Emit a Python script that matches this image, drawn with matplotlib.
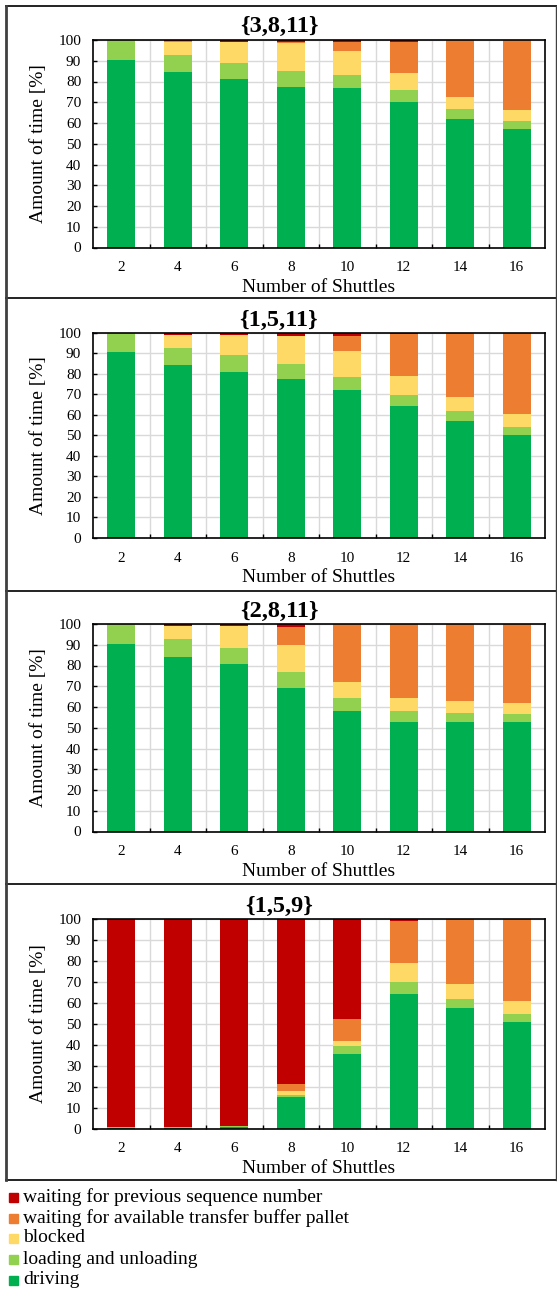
import matplotlib
matplotlib.use("Agg")
import matplotlib.pyplot as plt
from matplotlib.patches import Rectangle
from matplotlib.lines import Line2D

plt.rcParams['font.family'] = ['Liberation Serif', 'DejaVu Serif']

W, H = 557, 1293
DPI = 100

shuttles = ["2", "4", "6", "8", "10", "12", "14", "16"]
series_names = ["driving", "loading and unloading", "blocked",
                "waiting for available transfer buffer pallet",
                "waiting for previous sequence number"]
colors = ["#00B050", "#92D050", "#FFD966", "#ED7D31", "#C00000"]

titles = ["{3,8,11}", "{1,5,11}", "{2,8,11}", "{1,5,9}"]

# panel {3,8,11}
p1_driving = [90.5, 84.7, 81.2, 77.5, 76.7, 70.3, 62.1, 57.2]
p1_loading = [9.3, 8.2, 7.9, 7.5, 6.4, 5.6, 4.6, 3.9]
p1_blocked = [0.2, 6.3, 9.9, 13.6, 11.8, 8.2, 5.8, 5.0]
p1_pallet = [0.0, 0.2, 0.2, 0.2, 4.0, 14.9, 27.5, 33.9]
p1_seq = [0.0, 0.6, 0.8, 1.2, 1.1, 1.0, 0.0, 0.0]

# panel {1,5,11}
p2_driving = [90.6, 84.4, 81.0, 77.6, 72.1, 64.4, 57.1, 50.3]
p2_loading = [9.4, 8.5, 8.1, 7.1, 6.3, 5.4, 4.8, 3.9]
p2_blocked = [0.0, 6.3, 9.9, 13.8, 12.8, 9.1, 6.8, 6.2]
p2_pallet = [0.0, 0.0, 0.0, 0.0, 7.5, 20.5, 31.3, 39.6]
p2_seq = [0.0, 0.8, 1.0, 1.5, 1.3, 0.6, 0.0, 0.0]

# panel {2,8,11}
p3_driving = [90.5, 84.2, 80.5, 69.3, 58.2, 52.6, 52.6, 52.6]
p3_loading = [9.5, 8.4, 8.1, 7.4, 6.3, 5.3, 4.5, 3.8]
p3_blocked = [0.0, 6.4, 10.3, 13.2, 7.7, 6.6, 5.9, 5.3]
p3_pallet = [0.0, 0.0, 0.0, 8.8, 27.8, 35.5, 37.0, 38.3]
p3_seq = [0.0, 1.0, 1.1, 1.3, 0.0, 0.0, 0.0, 0.0]

# panel {1,5,9}
p4_driving = [0.3, 0.3, 0.5, 15.0, 35.7, 64.3, 57.3, 50.6]
p4_loading = [0.3, 0.4, 0.6, 1.1, 3.5, 5.8, 4.6, 4.0]
p4_blocked = [0.0, 0.0, 0.0, 1.7, 2.8, 8.9, 7.0, 6.1]
p4_pallet = [0.0, 0.0, 0.0, 3.4, 10.4, 20.2, 31.1, 39.3]
p4_seq = [99.4, 99.3, 98.9, 78.8, 47.6, 0.8, 0.0, 0.0]

panels = [
    [p1_driving, p1_loading, p1_blocked, p1_pallet, p1_seq],
    [p2_driving, p2_loading, p2_blocked, p2_pallet, p2_seq],
    [p3_driving, p3_loading, p3_blocked, p3_pallet, p3_seq],
    [p4_driving, p4_loading, p4_blocked, p4_pallet, p4_seq],
]

# layout in pixels
ax_left, ax_right = 93, 545
ax_tops = [40, 333, 624, 919]
ax_bots = [247.5, 538, 831.5, 1128.5]
title_y = [26, 320, 611, 906]
box_lines = [6, 298, 591, 884, 1180]

fig = plt.figure(figsize=(W / DPI, H / DPI), dpi=DPI)

def fx(px):
    return px / W

def fy(py):
    return 1 - py / H

for i, data in enumerate(panels):
    ax = fig.add_axes([fx(ax_left), fy(ax_bots[i]), fx(ax_right - ax_left),
                       (ax_bots[i] - ax_tops[i]) / H])
    x = list(range(len(shuttles)))
    bottom = [0.0] * len(shuttles)
    for vals, col, name in zip(data, colors, series_names):
        ax.bar(x, vals, width=0.5, bottom=bottom, color=col, edgecolor='none',
               zorder=3, label=name)
        bottom = [b + v for b, v in zip(bottom, vals)]
    ax.set_xlim(-0.5, len(shuttles) - 0.5)
    ax.set_ylim(0, 100)
    ax.set_yticks(range(0, 101, 10))
    ax.set_xticks(x)
    ax.set_xticklabels(shuttles)
    ax.set_xticks([k + 0.5 for k in range(len(shuttles) - 1)], minor=True)
    ax.grid(axis='y', which='major', color='#D9D9D9', lw=1.0, zorder=0)
    ax.grid(axis='x', which='minor', color='#D9D9D9', lw=1.0, zorder=0)
    ax.tick_params(axis='x', which='major', length=0, labelsize=11, pad=10)
    ax.tick_params(axis='x', which='minor', direction='in', length=3, width=1, color='black')
    ax.tick_params(axis='y', direction='in', length=3, width=1, labelsize=11, pad=8.5)
    for s in ax.spines.values():
        s.set_color('black')
        s.set_linewidth(1.2)
        s.set_zorder(5)
    ax.set_xlabel("Number of Shuttles", fontsize=14, labelpad=3)
    ax.set_ylabel("Amount of time [%]", fontsize=14)
    ax.yaxis.set_label_coords((47 - ax_left) / (ax_right - ax_left), 0.5)
    fig.text(fx(279), fy(title_y[i]), titles[i], ha='center', va='center',
             fontsize=17.5, fontweight='bold')

# panel frame lines
for py in box_lines:
    fig.add_artist(Line2D([fx(6), 1.0], [fy(py), fy(py)], color='#222222', lw=1.4))
fig.add_artist(Line2D([fx(6), fx(6)], [fy(box_lines[0]), fy(box_lines[-1])],
                      color='#404040', lw=2.0))
fig.add_artist(Line2D([fx(556), fx(556)], [fy(box_lines[0]), fy(box_lines[-1])],
                      color='#404040', lw=1.0))

# legend
leg_rows_y = [1197, 1218, 1238, 1259, 1280]
leg_order = [4, 3, 2, 1, 0]
for py, k in zip(leg_rows_y, leg_order):
    fig.add_artist(Rectangle((fx(9), fy(py + 4.5)), 9 / W, 9 / H,
                             color=colors[k], transform=fig.transFigure))
    fig.text(fx(23), fy(py), series_names[k], ha='left', va='center',
             fontsize=14)

fig.savefig("out.png", dpi=DPI)
